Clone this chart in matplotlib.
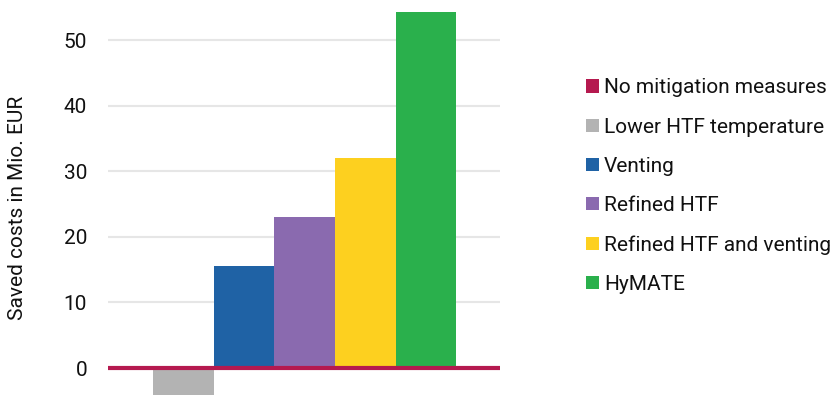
import matplotlib
matplotlib.use("Agg")
import matplotlib.pyplot as plt
from matplotlib.patches import Patch

plt.rcParams['font.family'] = ['Roboto', 'DejaVu Sans']

categories = ["No mitigation measures", "Lower HTF temperature", "Venting",
              "Refined HTF", "Refined HTF and venting", "HyMATE"]
values = [0.0, -4.2, 15.5, 23.0, 32.0, 54.3]
colors = ["#B5194F", "#B3B3B3", "#1F62A5", "#8A6AAF", "#FDD01F", "#2AB04C"]
yticks = [0, 10, 20, 30, 40, 50]
ylabel = "Saved costs in Mio. EUR"

fig = plt.figure(figsize=(8.38, 3.95), dpi=100)
ax = fig.add_axes([108/838, 0, (500-108)/838, 1])

x = list(range(len(categories)))
ax.bar(x, values, width=1.0, color=colors, zorder=2)
ax.axhline(0, color=colors[0], lw=3, zorder=3)

ax.set_xlim(-0.245, 6.22)
ax.set_ylim(-4.1, 56.1)
ax.set_yticks(yticks)
ax.set_xticks([])
ax.grid(axis='y', color='#E6E6E6', lw=1.5, zorder=0)
ax.tick_params(axis='y', length=0, pad=15, labelsize=15, labelcolor='#111111')
for s in ax.spines.values():
    s.set_visible(False)
ax.set_ylabel(ylabel, fontsize=15, color='#111111')
ax.yaxis.set_label_coords(-(108 - 27) / 392, 1 - 207.5 / 395)

handles = [Patch(facecolor=c, edgecolor='none') for c in colors]
fig.legend(handles, categories, loc='upper left', bbox_to_anchor=(578/838, 1 - 70/395),
           frameon=False, fontsize=15, handlelength=0.6, handleheight=0.6,
           handletextpad=0.25, labelspacing=0.97, labelcolor='#111111', borderaxespad=0)

fig.savefig("out.png", dpi=100)
